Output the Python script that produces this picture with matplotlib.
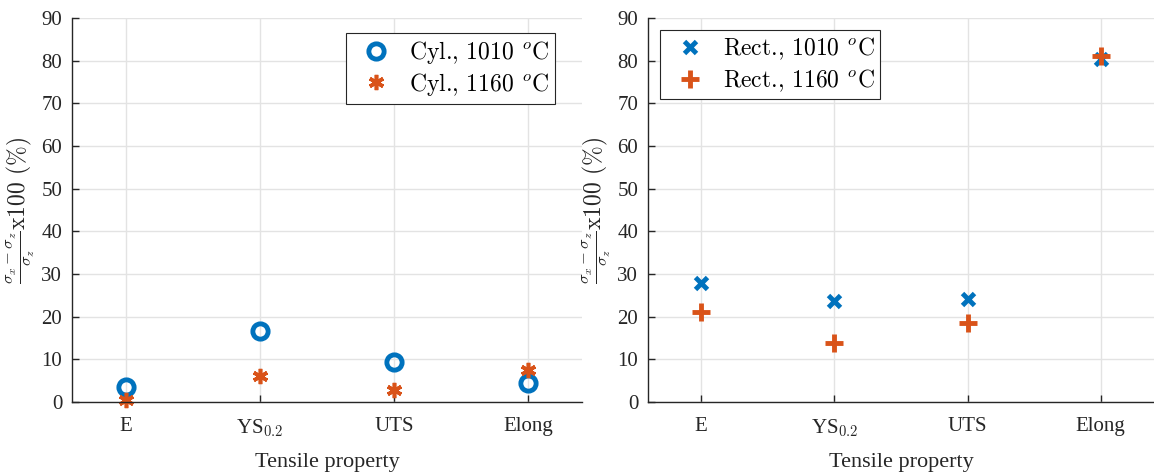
import matplotlib
matplotlib.use("Agg")
import matplotlib.pyplot as plt

plt.rcParams['font.family'] = ['Liberation Serif', 'DejaVu Serif']
plt.rcParams['mathtext.fontset'] = 'cm'

properties = ['E', r'YS$_{0.2}$', 'UTS', 'Elong']
positions = [1, 2, 3, 4]

cyl_1010 = [3.6, 16.7, 9.4, 4.4]
cyl_1160 = [0.5, 6.0, 2.7, 7.6]
rect_1010 = [27.9, 23.6, 24.1, 80.3]
rect_1160 = [21.0, 13.8, 18.5, 81.0]

blue = '#0072BD'
orange = '#D95319'
asterisk = (6, 2, 0)

W, H = 1154, 476
fig = plt.figure(figsize=(W / 100, H / 100), dpi=100)
ax1 = fig.add_axes([0.0624, 0.1555, 0.442, 0.8067])
ax2 = fig.add_axes([0.5615, 0.1555, 0.4385, 0.8067])

ylabel = r'$\frac{\sigma_x-\sigma_z}{\sigma_z}\mathrm{x100\ (\%)}$'

for ax in (ax1, ax2):
    ax.set_xlim(0.6, 4.4)
    ax.set_ylim(0, 90)
    ax.set_yticks(range(0, 91, 10))
    ax.set_xticks(positions)
    ax.set_xticklabels(properties)
    ax.grid(True, color='#e3e3e3', linewidth=1.0)
    ax.set_axisbelow(True)
    for s in ('top', 'right'):
        ax.spines[s].set_visible(False)
    for s in ('left', 'bottom'):
        ax.spines[s].set_color('#262626')
        ax.spines[s].set_linewidth(1.0)
    ax.tick_params(direction='in', length=5, width=1.0, color='#262626',
                   labelsize=15, labelcolor='#262626')
    ax.tick_params(axis='x', pad=11)
    ax.tick_params(axis='y', pad=7)
    ax.set_xlabel('Tensile property', fontsize=16, color='#262626', labelpad=10)
    ax.set_ylabel(ylabel, fontsize=17, color='#262626', labelpad=3)

ax1.plot(positions, cyl_1010, linestyle='none', marker='o', markersize=11,
         markerfacecolor='none', markeredgecolor=blue, markeredgewidth=3.5,
         label=r'Cyl., 1010 $^{o}$C', clip_on=False)
ax1.plot(positions, cyl_1160, linestyle='none', marker=asterisk, markersize=11,
         markeredgecolor=orange, markerfacecolor=orange, markeredgewidth=2.6,
         label=r'Cyl., 1160 $^{o}$C', clip_on=False)

ax2.plot(positions, rect_1010, linestyle='none', marker='x', markersize=9,
         markeredgecolor=blue, markeredgewidth=3.5,
         label=r'Rect., 1010 $^{o}$C', clip_on=False)
ax2.plot(positions, rect_1160, linestyle='none', marker='+', markersize=13,
         markeredgecolor=orange, markeredgewidth=3.5,
         label=r'Rect., 1160 $^{o}$C', clip_on=False)

legend_style = dict(prop={'family': 'cmr10', 'size': 17}, frameon=True,
                    fancybox=False, edgecolor='#262626', framealpha=1,
                    borderpad=0.25, handletextpad=0.4, labelspacing=0.2,
                    borderaxespad=0, bbox_transform=fig.transFigure)
leg1 = ax1.legend(loc='upper right', bbox_to_anchor=(555 / W, 1 - 33 / H),
                  **legend_style)
leg2 = ax2.legend(loc='upper left', bbox_to_anchor=(660 / W, 1 - 30 / H),
                  **legend_style)
for leg in (leg1, leg2):
    leg.get_frame().set_linewidth(0.8)

fig.savefig('out.png', dpi=100)
